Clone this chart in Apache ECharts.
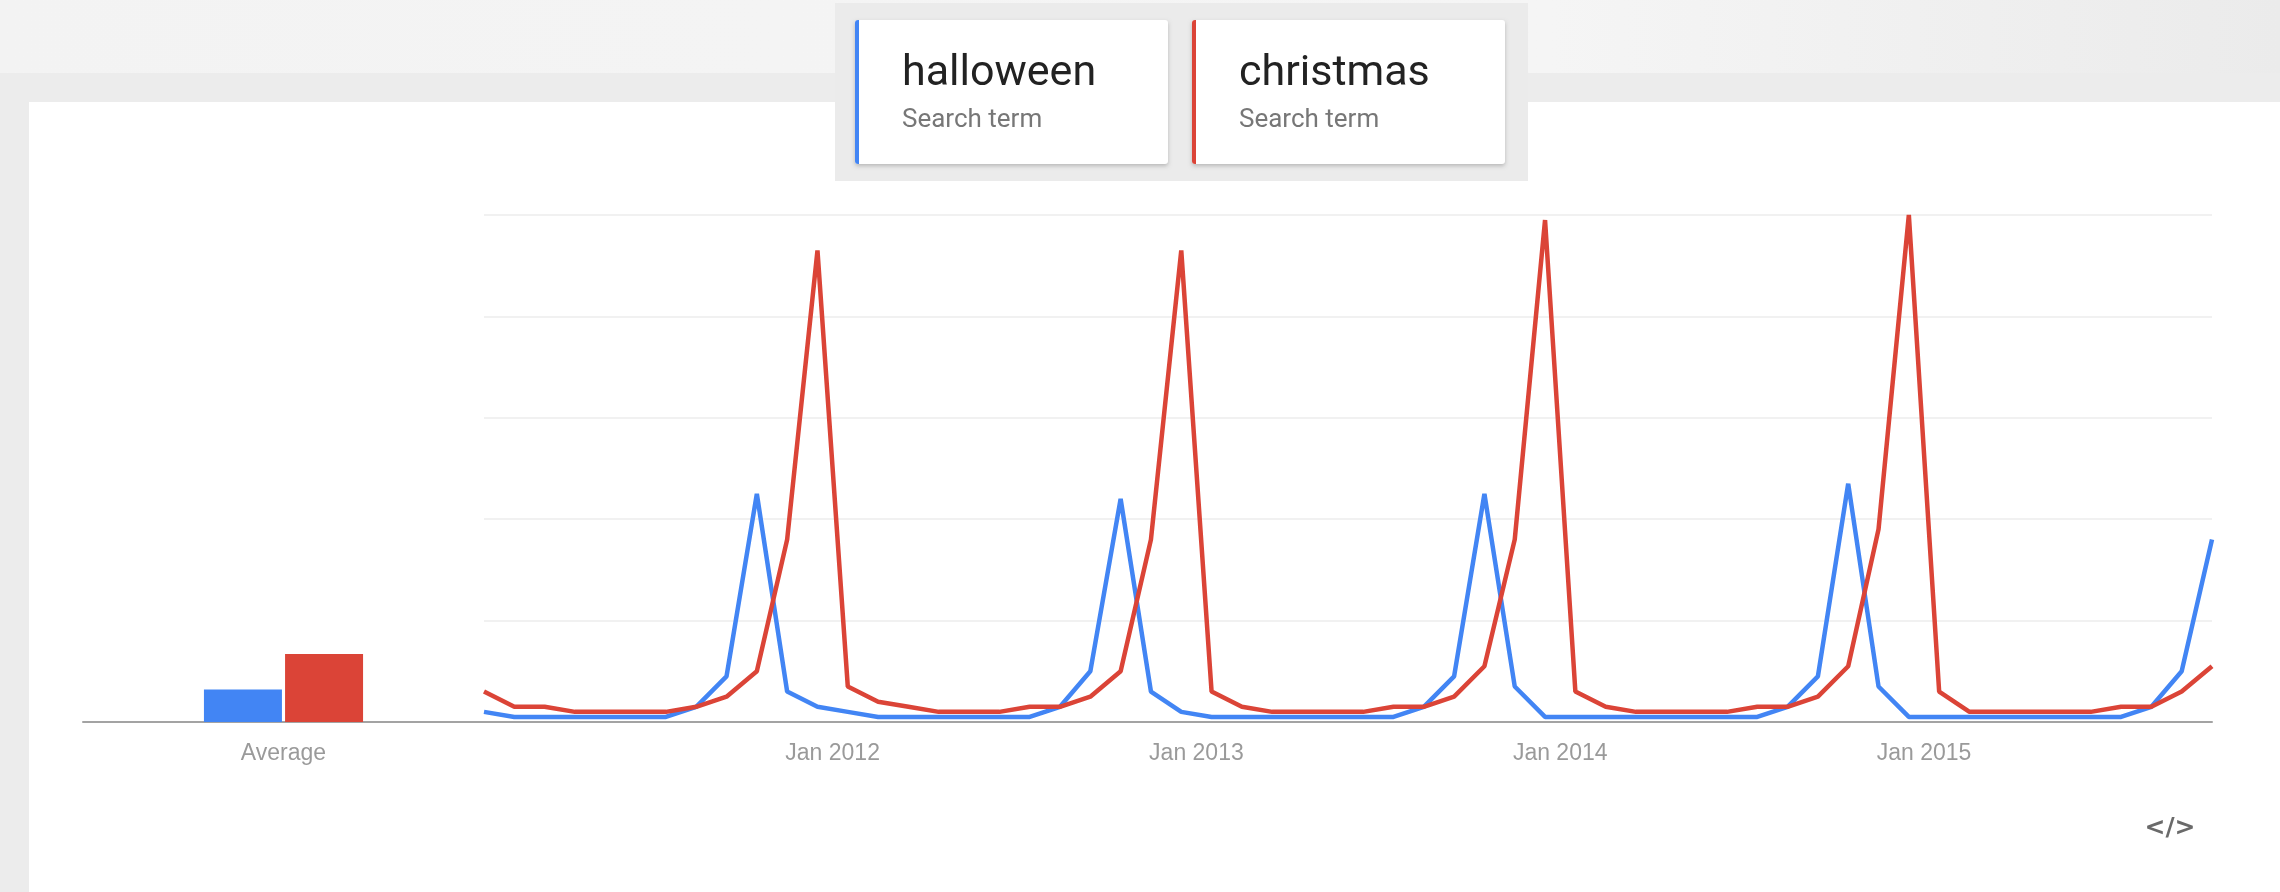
<!DOCTYPE html>
<html>
<head>
<meta charset="utf-8">
<script src="https://cdn.jsdelivr.net/npm/echarts@6/dist/echarts.min.js"></script>
<style>
html,body{margin:0;padding:0;background:#fff;}
#chart{width:2280px;height:892px;}
</style>
</head>
<body>
<div id="chart"></div>
<script>
// ---- data ----
const seriesNames = ['halloween', 'christmas'];
const seriesSubtitle = 'Search term';
const seriesColors = ['#4285f4', '#db4437'];
const months = [
  '2011-01','2011-02','2011-03','2011-04','2011-05','2011-06','2011-07','2011-08','2011-09','2011-10','2011-11','2011-12',
  '2012-01','2012-02','2012-03','2012-04','2012-05','2012-06','2012-07','2012-08','2012-09','2012-10','2012-11','2012-12',
  '2013-01','2013-02','2013-03','2013-04','2013-05','2013-06','2013-07','2013-08','2013-09','2013-10','2013-11','2013-12',
  '2014-01','2014-02','2014-03','2014-04','2014-05','2014-06','2014-07','2014-08','2014-09','2014-10','2014-11','2014-12',
  '2015-01','2015-02','2015-03','2015-04','2015-05','2015-06','2015-07','2015-08','2015-09','2015-10'
];
const halloween = [
  2,1,1,1,1,1,1,3,9,45,6,3,
  2,1,1,1,1,1,1,3,10,44,6,2,
  1,1,1,1,1,1,1,3,9,45,7,1,
  1,1,1,1,1,1,1,3,9,47,7,1,
  1,1,1,1,1,1,1,3,10,36
];
const christmas = [
  6,3,3,2,2,2,2,3,5,10,36,93,
  7,4,3,2,2,2,3,3,5,10,36,93,
  6,3,2,2,2,2,3,3,5,11,36,99,
  6,3,2,2,2,2,3,3,5,11,38,100,
  6,2,2,2,2,2,3,3,6,11
];
const averageCategory = ['Average'];
const averageHalloween = [6.4];
const averageChristmas = [13.4];
const tickLabels = ['Jan 2012', 'Jan 2013', 'Jan 2014', 'Jan 2015'];
const tickMonths = ['2012-01', '2013-01', '2014-01', '2015-01'];

// ---- chart ----
const chart = echarts.init(document.getElementById('chart'), null, {renderer: 'canvas'});
const toPairs = arr => arr.map((v, i) => [i, v]);
// labels sit at the boundary between December and January
const tickPos = tickMonths.map(m => months.indexOf(m) - 0.5);

const axisFont = 'Arial, "Liberation Sans", sans-serif';
const labelColor = '#9a9a9a';
const baseColor = '#a3a3a3';

function card(x, idx) {
  return [
    {type: 'rect', z: 1, shape: {x: x, y: 20, width: 313, height: 144, r: 3},
     style: {fill: '#ffffff', shadowBlur: 4, shadowOffsetY: 2, shadowColor: 'rgba(0,0,0,0.22)'}},
    {type: 'rect', z: 2, shape: {x: x, y: 20, width: 4, height: 144, r: [3, 0, 0, 3]},
     style: {fill: seriesColors[idx]}},
    {type: 'text', z: 3, style: {x: x + 47, y: 74, text: seriesNames[idx],
      font: '43px Roboto, "Noto Sans", sans-serif', fill: '#222222', verticalAlign: 'middle'}},
    {type: 'text', z: 3, style: {x: x + 47, y: 120, text: seriesSubtitle,
      font: '26px Roboto, "Noto Sans", sans-serif', fill: '#777777', verticalAlign: 'middle'}}
  ];
}

const option = {
  animation: false,
  backgroundColor: '#ffffff',
  graphic: [
    {type: 'rect', z: -5, shape: {x: 0, y: 0, width: 2280, height: 73},
     style: {fill: new echarts.graphic.LinearGradient(0, 0, 1, 0, [
       {offset: 0, color: '#f3f3f3'}, {offset: 0.68, color: '#f5f5f5'}, {offset: 1, color: '#ebebeb'}])}},
    {type: 'rect', z: -5, shape: {x: 0, y: 73, width: 2280, height: 29}, style: {fill: '#ececec'}},
    {type: 'rect', z: -5, shape: {x: 0, y: 73, width: 29, height: 819}, style: {fill: '#ececec'}},
    {type: 'rect', z: 0, shape: {x: 835, y: 3, width: 693, height: 178}, style: {fill: '#ebebeb'}},
    ...card(855, 0),
    ...card(1192, 1),
    {type: 'text', z: 3, style: {x: 2170, y: 828, text: '</>', font: 'bold 25px "DejaVu Sans", sans-serif',
      fill: '#6a6a6a', align: 'center', verticalAlign: 'middle'}}
  ],
  grid: [
    {left: 83, top: 215, width: 401, height: 507},
    {left: 484, top: 215, width: 1728, height: 507}
  ],
  xAxis: [
    {type: 'category', gridIndex: 0, data: averageCategory,
     axisLine: {lineStyle: {color: baseColor, width: 2}}, axisTick: {show: false},
     axisLabel: {color: labelColor, fontSize: 23, fontFamily: axisFont, margin: 20}},
    {type: 'value', gridIndex: 1, min: 0, max: months.length - 1,
     axisLine: {show: true, onZero: false, lineStyle: {color: baseColor, width: 2}},
     axisTick: {show: false}, splitLine: {show: false},
     axisLabel: {customValues: tickPos, color: labelColor, fontSize: 23, fontFamily: axisFont, margin: 20,
       formatter: v => tickLabels[tickPos.indexOf(v)] || ''}}
  ],
  yAxis: [
    {type: 'value', gridIndex: 0, min: 0, max: 100, show: false},
    {type: 'value', gridIndex: 1, min: 0, max: 100, interval: 20,
     axisLine: {show: false}, axisTick: {show: false}, axisLabel: {show: false},
     splitLine: {show: true, lineStyle: {color: '#ececec', width: 1.5}}}
  ],
  series: [
    {name: seriesNames[0] + ' avg', type: 'bar', xAxisIndex: 0, yAxisIndex: 0, data: averageHalloween,
     barWidth: 78, barGap: '4%', itemStyle: {color: seriesColors[0]}},
    {name: seriesNames[1] + ' avg', type: 'bar', xAxisIndex: 0, yAxisIndex: 0, data: averageChristmas,
     barWidth: 78, barGap: '4%', itemStyle: {color: seriesColors[1]}},
    {name: seriesNames[0], type: 'line', xAxisIndex: 1, yAxisIndex: 1, data: toPairs(halloween),
     showSymbol: false, symbol: 'none', lineStyle: {color: seriesColors[0], width: 4.5}, z: 3},
    {name: seriesNames[1], type: 'line', xAxisIndex: 1, yAxisIndex: 1, data: toPairs(christmas),
     showSymbol: false, symbol: 'none', lineStyle: {color: seriesColors[1], width: 4.5}, z: 4}
  ]
};
chart.setOption(option);
</script>
</body>
</html>
